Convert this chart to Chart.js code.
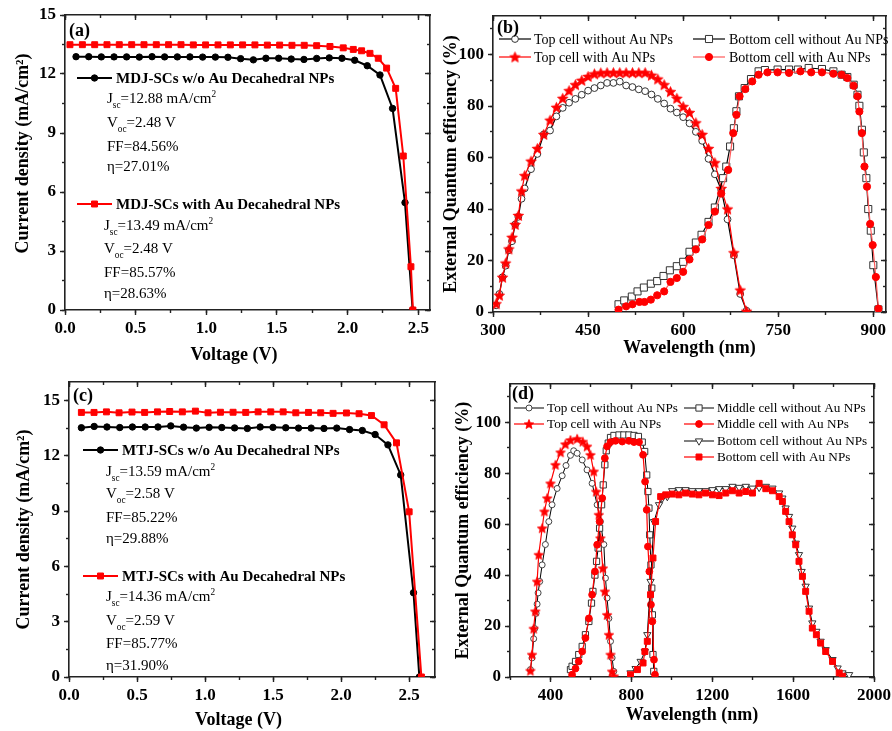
<!DOCTYPE html>
<html><head><meta charset="utf-8">
<script src="https://cdn.jsdelivr.net/npm/chart.js@4.4.0/dist/chart.umd.min.js"></script>
<style>
html,body{margin:0;padding:0;background:#fff;}
#wrap{position:relative;width:892px;height:731px;background:#fff;}
canvas{position:absolute;left:0;top:0;}
</style></head><body><div id="wrap">
<canvas id="ca" width="892" height="731"></canvas>
<canvas id="cb" width="892" height="731"></canvas>
<canvas id="cc" width="892" height="731"></canvas>
<canvas id="cd" width="892" height="731"></canvas>
</div>
<script>
// ---------------- Panel (a): MDJ J-V ----------------
const aVoltageWithout = [0.078,0.168,0.257,0.347,0.436,0.526,0.616,0.705,0.795,0.884,0.974,1.064,1.153,1.243,1.333,1.422,1.512,1.601,1.691,1.781,1.870,1.960,2.050,2.139,2.229,2.318,2.406,2.460];
const aCurrentWithout = [12.88,12.88,12.87,12.87,12.87,12.86,12.88,12.87,12.87,12.87,12.86,12.86,12.85,12.78,12.72,12.80,12.80,12.76,12.74,12.79,12.82,12.80,12.70,12.42,11.95,10.25,5.46,0];
const aVoltageWith = [0.035,0.123,0.210,0.297,0.384,0.472,0.559,0.646,0.733,0.821,0.908,0.995,1.083,1.170,1.257,1.344,1.432,1.519,1.606,1.693,1.781,1.875,1.969,2.040,2.099,2.158,2.217,2.276,2.340,2.394,2.448,2.462];
const aCurrentWith = [13.49,13.49,13.49,13.49,13.49,13.49,13.49,13.49,13.49,13.49,13.48,13.48,13.48,13.48,13.48,13.48,13.47,13.47,13.46,13.46,13.44,13.40,13.33,13.25,13.18,13.05,12.80,12.30,11.27,7.83,2.20,0];

// ---------------- Panel (c): MTJ J-V ----------------
const cVoltageWithout = [0.091,0.185,0.279,0.373,0.466,0.560,0.654,0.748,0.842,0.936,1.030,1.123,1.217,1.311,1.405,1.499,1.593,1.687,1.780,1.874,1.968,2.062,2.156,2.250,2.344,2.438,2.532,2.575];
const cCurrentWithout = [13.52,13.59,13.56,13.53,13.56,13.56,13.56,13.62,13.55,13.50,13.54,13.53,13.51,13.48,13.56,13.54,13.52,13.50,13.50,13.48,13.50,13.42,13.37,13.15,12.59,10.96,4.57,0];
const cVoltageWith = [0.091,0.184,0.275,0.368,0.463,0.556,0.650,0.740,0.833,0.929,1.022,1.113,1.206,1.299,1.390,1.483,1.574,1.667,1.760,1.850,1.941,2.039,2.132,2.223,2.316,2.407,2.500,2.590];
const cCurrentWith = [14.35,14.35,14.38,14.33,14.37,14.35,14.38,14.40,14.38,14.42,14.33,14.36,14.36,14.35,14.38,14.38,14.38,14.33,14.35,14.33,14.30,14.32,14.28,14.18,13.68,12.70,8.96,0];

// ---------------- Panel (b): MDJ EQE ----------------
const bTopWavelength = [305,310,315,320,325,330,335,340,345,350,360,370,380,390,400,410,420,430,440,450,460,470,480,490,500,510,520,530,540,550,560,570,580,590,600,610,620,630,640,650,660,670,680,690,700];
const bTopWithout = [2.6,7,13.5,18,24,27.5,34,37,44,48,55.5,61.4,69,70.5,76,79.3,81.3,82.8,84.4,86,87,88,89,89,89.5,88,87.4,86.5,85.8,84.5,82.8,81,79,77.5,75.7,73.3,70,66.5,59.5,53.5,47.5,36,22,7,0.5];
const bTopWith = [3.2,6.5,13.5,19,24.5,29,34,37.5,47,53,58.6,63.5,69,74.5,79.5,83,86,88.3,90,91.5,92.5,92.9,93,93,93,93,93,93,93,92,90.5,88.3,85.6,83,79.8,77.5,73.5,69,63.5,58,48,40,23,8.5,0.3];
const bBottomWithoutWavelength = [498,507,519,528,538,549,559,569,579,590,600,610,620,629,640,650,663,668,674,680,684,688,697,707,719,729,749,767,781,798,819,837,850,859,869,875,878,882,885,889,892,896,900,908];
const bBottomWithout = [3,4.5,6,8,9.5,11,12,14,16.2,17.8,19.5,23.4,27,30,35,40.6,52,56.5,64.3,71.4,78,83.8,87,90.5,93.5,94,94.2,94.2,94.2,94.8,94.4,93.5,92.2,91.3,88.3,84.4,80.1,70.8,62,52,40,31.6,18.2,1];
const bBottomWithWavelength = [498,510,520,531,539,549,559,570,580,590,600,610,620,630,640,650,660,671,679,684,689,698,709,719,733,749,767,785,802,819,837,850,859,869,875,878,882,886,890,895,899,904,908];
const bBottomWith = [0.9,2.2,3,3.9,3.9,4.8,6.5,8,11.7,13.2,15.6,20.4,24.3,28.2,33.8,39,46,55.2,69.5,76.6,83.8,86.6,89.6,92.2,93.1,93.1,92.9,93.5,93.1,93.1,92.6,92.2,90.9,87.9,83.8,77.9,69.5,56.5,48.7,34.2,26,13.6,1.3];

// ---------------- Panel (d): MTJ EQE ----------------
const dTopWithoutWavelength = [301,309,317,322,329,334,339,347,359,375,392,408,433,458,477,499,515,532,557,581,606,631,647,664,672,680,689,697,705,713];
const dTopWithout = [2.9,7.5,15,19,25,28.6,33,37.5,44,52,61,67.6,74,79,83,87,88.8,87.8,85.2,81.3,76,67.6,61,52,38.8,31,23,14,7.5,2.2];
const dTopWithWavelength = [301,309,317,325,334,342,359,370,384,400,425,450,474,499,532,560,581,598,614,626,639,647,659,669,680,689,697,705,713];
const dTopWith = [2.5,8.8,19,25.8,37.5,48,58.4,65,70.2,76,83.3,88.2,91.4,93,93.5,92.4,90.5,87.2,80.7,72.8,63.7,54.5,42.7,33.6,24.4,16.6,8.8,2.2,0.3];
const dMiddleWithoutWavelength = [499,507,524,540,557,573,590,603,610,620,628,636,643,653,661,669,676,686,697,714,739,763,788,813,835,854,866,876,882,887,891,897,901,904,907,911];
const dMiddleWithout = [2.9,4.2,6.1,8.8,12,16.6,21.8,29,33.6,40,45.4,50.6,58.4,67.6,75.4,83.3,88.8,91.8,94,94.8,95,95,95,94.8,94.4,92.2,88.5,79.3,72.8,66.3,55.8,44,34.9,24.4,8.8,2.2];
const dMiddleWithWavelength = [507,524,540,557,573,590,606,620,631,643,656,669,680,697,722,755,788,813,838,858,868,876,882,889,897,904,912,917];
const dMiddleWith = [0.9,3.3,6.1,10,15.3,23,32.3,41.4,51.9,61,70.2,85.9,90.5,92.2,92.7,92.4,92.7,92.2,92.2,87.2,76.7,65.6,51.2,41.4,28.4,21.8,6.8,0.9];
const dBottomWithoutWavelength = [796,821,846,867,879,895,912,937,953,978,1002,1035,1068,1101,1134,1167,1201,1234,1267,1300,1333,1366,1399,1432,1465,1498,1531,1547,1563,1580,1596,1613,1629,1642,1662,1679,1695,1715,1736,1761,1795,1820,1844,1877];
const dBottomWithout = [1.6,3.3,6.1,10,16.6,37.5,61,67.6,70.2,70.8,73.1,73.5,73.5,73.1,73.1,73.1,73.5,73.9,73.9,74.8,74.4,74.8,74.1,74.4,74.8,74.1,72.2,70.2,66.3,63,58.4,52.5,48,41.4,35.6,27,21.2,17.9,14,10.7,6.8,3.5,1.6,0.9];
const dBottomWithWavelength = [796,830,858,867,879,895,907,920,945,970,1002,1035,1068,1101,1134,1167,1201,1234,1267,1300,1333,1366,1399,1432,1465,1498,1531,1547,1563,1580,1596,1613,1629,1646,1662,1679,1695,1715,1736,1761,1795,1828,1844];
const dBottomWith = [0.9,2.9,5.5,10,14,32.3,46.7,61,70.8,71.5,71.8,71.5,72.2,71.8,71.5,72.2,71.5,71.2,72.2,73.1,72.2,72.8,72.2,76,73.9,73.1,70.8,68.9,65,61,55.8,51.9,45.4,39.5,33.6,25.8,19.2,16.6,13.3,10,6.1,1.6,0.3];

// ---------------- Tick values ----------------
const jvXMajor = [0,0.5,1.0,1.5,2.0,2.5];
const jvXMinor = [0,0.25,0.5,0.75,1.0,1.25,1.5,1.75,2.0,2.25,2.5];
const jvYMajor = [0,3,6,9,12,15];
const jvYMinor = [0,1.5,3,4.5,6,7.5,9,10.5,12,13.5,15];
const bXMajor = [300,450,600,750,900];
const bXMinor = [300,375,450,525,600,675,750,825,900];
const eqeYMajor = [0,20,40,60,80,100];
const eqeYMinor = [0,10,20,30,40,50,60,70,80,90,100,110];
const dXMajor = [400,800,1200,1600,2000];
const dXMinor = [200,400,600,800,1000,1200,1400,1600,1800,2000];

// ---------------- helpers ----------------
const FONT = 'Liberation Serif';
const FRAME = '#222';
const RED = '#ff0000';
const zip = (xs, ys) => xs.map((x, i) => ({x: x, y: ys[i]}));

function mkStar(color, r) {
  const c = document.createElement('canvas');
  const s = Math.ceil(r * 2 + 2); c.width = s; c.height = s;
  const g = c.getContext('2d');
  g.translate(s / 2, s / 2 + 0.5);
  g.beginPath();
  for (let i = 0; i < 10; i++) {
    const ang = -Math.PI / 2 + i * Math.PI / 5;
    const rr = i % 2 === 0 ? r : r * 0.45;
    g.lineTo(rr * Math.cos(ang), rr * Math.sin(ang));
  }
  g.closePath(); g.fillStyle = color; g.fill();
  g.strokeStyle = color; g.lineWidth = 0.8; g.stroke();
  return c;
}
const starBig = mkStar(RED, 5.5);
const starSmall = mkStar(RED, 5);

function makeScales(s) {
  const tickFont = {family: FONT, size: 17, weight: 'bold'};
  const titleFont = {family: FONT, size: 18, weight: 'bold'};
  const setT = vals => scale => { scale.ticks = vals.map(v => ({value: v})); };
  const fix = size => scale => {
    if (scale.isHorizontal()) scale.height = size; else scale.width = size;
    scale.paddingLeft = 0; scale.paddingRight = 0; scale.paddingTop = 0; scale.paddingBottom = 0;
  };
  const def = (axis, pos, vals, tl, size, weight, fmt, title, border) => ({
    type: 'linear', axis: axis, position: pos, weight: weight,
    min: axis === 'x' ? s.xRange[0] : s.yRange[0],
    max: axis === 'x' ? s.xRange[1] : s.yRange[1],
    afterBuildTicks: setT(vals),
    afterFit: fix(size),
    ticks: fmt ? {display: true, autoSkip: false, maxRotation: 0, minRotation: 0, includeBounds: false,
                  padding: axis === 'x' ? 3 : 4, color: '#000', font: tickFont, callback: fmt}
               : {display: false, autoSkip: false, includeBounds: false},
    grid: {drawOnChartArea: false, drawTicks: true, tickLength: tl, tickWidth: 1.4, tickColor: FRAME},
    border: {display: border, color: FRAME, width: 1.6},
    title: title ? {display: true, text: title, font: titleFont, color: '#000', padding: 0} : {display: false}
  });
  return {
    x:   def('x', 'bottom', s.xMaj, 5, s.xH, 1, s.xFmt, s.xTitle, true),
    xm:  def('x', 'bottom', s.xMin, 3, 0, 0, null, null, false),
    y:   def('y', 'left', s.yMaj, 5, s.yW, 1, s.yFmt, s.yTitle, true),
    ym:  def('y', 'left', s.yMin, 3, 0, 0, null, null, false),
    x2:  def('x', 'top', s.xMaj, -5, 0, 1, null, null, true),
    x2m: def('x', 'top', s.xMin, -3, 0, 0, null, null, false),
    y2:  def('y', 'right', s.yMaj, -5, 0, 1, null, null, true),
    y2m: def('y', 'right', s.yMin, -3, 0, 0, null, null, false)
  };
}

function drawRich(ctx, x, y, parts, font) {
  ctx.textBaseline = 'alphabetic'; ctx.textAlign = 'left'; ctx.fillStyle = '#000';
  let cx = x;
  const base = y + font.size * 0.33;
  parts.forEach(p => {
    if (typeof p === 'string') p = {t: p};
    let size = font.size, dy = 0;
    if (p.sub) { size = font.size * 0.62; dy = font.size * 0.32; }
    if (p.sup) { size = font.size * 0.62; dy = -font.size * 0.42; }
    ctx.font = (font.weight || 'normal') + ' ' + size + 'px "' + FONT + '"';
    ctx.fillText(p.t, cx, base + dy);
    cx += ctx.measureText(p.t).width;
  });
}

const decor = {
  id: 'decor',
  afterDraw(chart, args, o) {
    const ctx = chart.ctx;
    ctx.save();
    (o.legend || []).forEach(it => {
      const ds = chart.data.datasets[it.ds];
      ctx.lineWidth = ds.borderWidth; ctx.strokeStyle = ds.borderColor;
      ctx.beginPath(); ctx.moveTo(it.x, it.y); ctx.lineTo(it.x + it.w, it.y); ctx.stroke();
      ctx.fillStyle = ds.pointBackgroundColor; ctx.strokeStyle = ds.pointBorderColor;
      ctx.lineWidth = ds.pointBorderWidth;
      Chart.helpers.drawPoint(ctx, {pointStyle: ds.pointStyle, rotation: ds.pointRotation || 0,
        radius: ds.pointRadius, borderWidth: ds.pointBorderWidth}, it.x + it.w / 2, it.y);
      drawRich(ctx, it.x + it.w + it.gap, it.y, [ds.label], it.font);
    });
    (o.texts || []).forEach(t => drawRich(ctx, t.x, t.y, t.parts, t.font));
    ctx.restore();
  }
};

function baseOptions(padding, scales, decorOpts) {
  return {
    responsive: false, animation: false, devicePixelRatio: 1, events: [],
    layout: {padding: padding},
    elements: {line: {tension: 0}},
    plugins: {legend: {display: false}, tooltip: {enabled: false}, decor: decorOpts},
    scales: scales
  };
}
const fmt1 = v => Number(v).toFixed(1);
const fmt0 = v => String(Math.round(v));

const boldLeg = {size: 15, weight: 'bold'};
const stat = {size: 15, weight: 'normal'};
const tag = {size: 18, weight: 'bold'};
function statsBlock(x, y0, dy, jsc, voc, ff, eta) {
  return [
    {x: x, y: y0, font: stat, parts: ['J', {t: 'sc', sub: 1}, '=' + jsc + ' mA/cm', {t: '2', sup: 1}]},
    {x: x, y: y0 + dy[0], font: stat, parts: ['V', {t: 'oc', sub: 1}, '=' + voc + ' V']},
    {x: x, y: y0 + dy[1], font: stat, parts: ['FF=' + ff + '%']},
    {x: x, y: y0 + dy[2], font: stat, parts: ['\u03b7=' + eta + '%']}
  ];
}

// ---------------- Chart (a) ----------------
new Chart(document.getElementById('ca'), {
  type: 'line',
  data: {datasets: [
    {label: 'MDJ-SCs with Au Decahedral NPs', data: zip(aVoltageWith, aCurrentWith), borderColor: RED, borderWidth: 2,
     pointStyle: 'rect', pointRadius: 4.2, pointBackgroundColor: RED, pointBorderColor: RED, pointBorderWidth: 1, order: 0},
    {label: 'MDJ-SCs w/o Au Decahedral NPs', data: zip(aVoltageWithout, aCurrentWithout), borderColor: '#000', borderWidth: 2,
     pointStyle: 'circle', pointRadius: 3.2, pointBackgroundColor: '#000', pointBorderColor: '#000', pointBorderWidth: 1, order: 1}
  ]},
  options: baseOptions({left: 13, top: 15, right: 462, bottom: 365},
    makeScales({xRange: [0, 2.583], yRange: [0, 15], xMaj: jvXMajor, xMin: jvXMinor, yMaj: jvYMajor, yMin: jvYMinor,
      xFmt: fmt1, yFmt: fmt0, xTitle: 'Voltage (V)      ', yTitle: '    Current density (mA/cm\u00b2)', yW: 52, xH: 56}),
    {legend: [
      {ds: 1, x: 77, y: 78, w: 35, gap: 4, font: boldLeg},
      {ds: 0, x: 77, y: 204, w: 35, gap: 4, font: boldLeg}
    ],
    texts: [{x: 69, y: 30, font: tag, parts: ['(a)']}]
      .concat(statsBlock(107, 98, [24, 48, 68], '12.88', '2.48', '84.56', '27.01'))
      .concat(statsBlock(104, 225, [23, 47, 68], '13.49', '2.48', '85.57', '28.63'))
    }),
  plugins: [decor]
});

// ---------------- Chart (c) ----------------
new Chart(document.getElementById('cc'), {
  type: 'line',
  data: {datasets: [
    {label: 'MTJ-SCs with Au Decahedral NPs', data: zip(cVoltageWith, cCurrentWith), borderColor: RED, borderWidth: 2,
     pointStyle: 'rect', pointRadius: 4.2, pointBackgroundColor: RED, pointBorderColor: RED, pointBorderWidth: 1, order: 0},
    {label: 'MTJ-SCs w/o Au Decahedral NPs', data: zip(cVoltageWithout, cCurrentWithout), borderColor: '#000', borderWidth: 2,
     pointStyle: 'circle', pointRadius: 3.2, pointBackgroundColor: '#000', pointBorderColor: '#000', pointBorderWidth: 1, order: 1}
  ]},
  options: baseOptions({left: 14, top: 382, right: 457, bottom: 0},
    makeScales({xRange: [0, 2.69], yRange: [0, 16], xMaj: jvXMajor, xMin: jvXMinor, yMaj: jvYMajor, yMin: jvYMinor,
      xFmt: fmt1, yFmt: fmt0, xTitle: 'Voltage (V)      ', yTitle: 'Current density (mA/cm\u00b2)', yW: 55, xH: 54}),
    {legend: [
      {ds: 1, x: 83, y: 450, w: 35, gap: 4, font: boldLeg},
      {ds: 0, x: 83, y: 576, w: 35, gap: 4, font: boldLeg}
    ],
    texts: [{x: 73, y: 395, font: tag, parts: ['(c)']}]
      .concat(statsBlock(106, 471, [22, 46, 67], '13.59', '2.58', '85.22', '29.88'))
      .concat(statsBlock(106, 596, [24, 47, 69], '14.36', '2.59', '85.77', '31.90'))
    }),
  plugins: [decor]
});

// ---------------- Chart (b) ----------------
const legB = {size: 14, weight: 'normal'};
new Chart(document.getElementById('cb'), {
  type: 'line',
  data: {datasets: [
    {label: 'Top cell without Au NPs', data: zip(bTopWavelength, bTopWithout), borderColor: '#000', borderWidth: 1.2,
     pointStyle: 'circle', pointRadius: 3.4, pointBackgroundColor: '#fff', pointBorderColor: '#333', pointBorderWidth: 1, order: 3},
    {label: 'Top cell with Au NPs', data: zip(bTopWavelength, bTopWith), borderColor: RED, borderWidth: 1.2,
     pointStyle: starBig, pointRadius: 5, pointBackgroundColor: RED, pointBorderColor: RED, pointBorderWidth: 1, order: 2},
    {label: 'Bottom cell without Au NPs', data: zip(bBottomWithoutWavelength, bBottomWithout), borderColor: '#000', borderWidth: 1.2,
     pointStyle: 'rect', pointRadius: 5, pointBackgroundColor: '#fff', pointBorderColor: '#333', pointBorderWidth: 1, order: 1},
    {label: 'Bottom cell with Au NPs', data: zip(bBottomWithWavelength, bBottomWith), borderColor: '#ff5a5a', borderWidth: 1.2,
     pointStyle: 'circle', pointRadius: 3.6, pointBackgroundColor: RED, pointBorderColor: RED, pointBorderWidth: 1, order: 0}
  ]},
  options: baseOptions({left: 441, top: 16, right: 1, bottom: 372},
    makeScales({xRange: [300, 920], yRange: [0, 115], xMaj: bXMajor, xMin: bXMinor, yMaj: eqeYMajor, yMin: eqeYMinor,
      xFmt: fmt0, yFmt: fmt0, xTitle: 'Wavelength (nm)', yTitle: 'External Quantum efficiency (%)', yW: 52, xH: 47}),
    {legend: [
      {ds: 0, x: 499, y: 39, w: 32, gap: 3, font: legB},
      {ds: 1, x: 499, y: 57, w: 32, gap: 3, font: legB},
      {ds: 2, x: 693, y: 39, w: 32, gap: 4, font: legB},
      {ds: 3, x: 693, y: 57, w: 32, gap: 4, font: legB}
    ],
    texts: [{x: 497, y: 27, font: tag, parts: ['(b)']}]}),
  plugins: [decor]
});

// ---------------- Chart (d) ----------------
const legD = {size: 13.2, weight: 'normal'};
new Chart(document.getElementById('cd'), {
  type: 'line',
  data: {datasets: [
    {label: 'Top cell without Au NPs', data: zip(dTopWithoutWavelength, dTopWithout), borderColor: '#000', borderWidth: 1,
     pointStyle: 'circle', pointRadius: 3, pointBackgroundColor: '#fff', pointBorderColor: '#444', pointBorderWidth: 1, order: 5},
    {label: 'Top cell with Au NPs', data: zip(dTopWithWavelength, dTopWith), borderColor: RED, borderWidth: 1.2,
     pointStyle: starSmall, pointRadius: 4.5, pointBackgroundColor: RED, pointBorderColor: RED, pointBorderWidth: 1, order: 4},
    {label: 'Middle cell without Au NPs', data: zip(dMiddleWithoutWavelength, dMiddleWithout), borderColor: '#000', borderWidth: 1,
     pointStyle: 'rect', pointRadius: 4.4, pointBackgroundColor: '#fff', pointBorderColor: '#333', pointBorderWidth: 1, order: 3},
    {label: 'Middle cell with Au NPs', data: zip(dMiddleWithWavelength, dMiddleWith), borderColor: RED, borderWidth: 1.2,
     pointStyle: 'circle', pointRadius: 3.4, pointBackgroundColor: RED, pointBorderColor: RED, pointBorderWidth: 1, order: 2},
    {label: 'Bottom cell without Au NPs', data: zip(dBottomWithoutWavelength, dBottomWithout), borderColor: '#000', borderWidth: 1,
     pointStyle: 'triangle', pointRotation: 180, pointRadius: 4.2, pointBackgroundColor: '#fff', pointBorderColor: '#333', pointBorderWidth: 1, order: 1},
    {label: 'Bottom cell with Au NPs', data: zip(dBottomWithWavelength, dBottomWith), borderColor: RED, borderWidth: 1.2,
     pointStyle: 'rect', pointRadius: 4.2, pointBackgroundColor: RED, pointBorderColor: RED, pointBorderWidth: 1, order: 0}
  ]},
  options: baseOptions({left: 453, top: 384, right: 18, bottom: 5},
    makeScales({xRange: [200, 2000], yRange: [0, 115], xMaj: dXMajor, xMin: dXMinor, yMaj: eqeYMajor, yMin: eqeYMinor,
      xFmt: fmt0, yFmt: fmt0, xTitle: 'Wavelength (nm)', yTitle: 'External Quantum efficiency (%)', yW: 57, xH: 49}),
    {legend: [
      {ds: 0, x: 514, y: 408, w: 30, gap: 3, font: legD},
      {ds: 1, x: 514, y: 424, w: 30, gap: 3, font: legD},
      {ds: 2, x: 684, y: 408, w: 30, gap: 3, font: legD},
      {ds: 3, x: 684, y: 424, w: 30, gap: 3, font: legD},
      {ds: 4, x: 684, y: 441, w: 30, gap: 3, font: legD},
      {ds: 5, x: 684, y: 457, w: 30, gap: 3, font: legD}
    ],
    texts: [{x: 512, y: 393, font: tag, parts: ['(d)']}]}),
  plugins: [decor]
});
</script>
</body></html>
